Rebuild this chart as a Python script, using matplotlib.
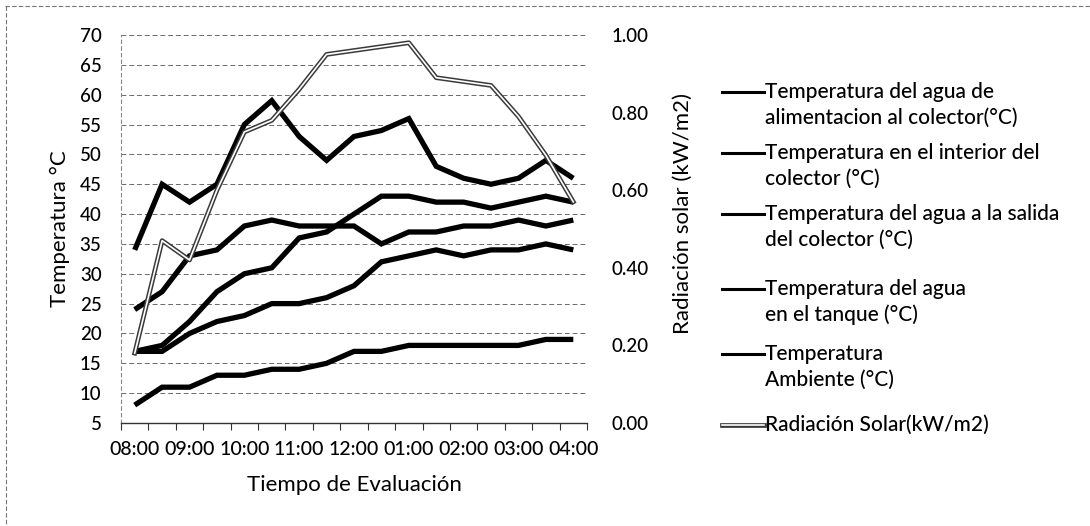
import matplotlib
matplotlib.use("Agg")
import matplotlib.pyplot as plt
from matplotlib.lines import Line2D
import matplotlib.patheffects as pe
from matplotlib.ticker import FixedLocator, FuncFormatter

plt.rcParams['font.family'] = ['Lato', 'DejaVu Sans']
plt.rcParams['font.weight'] = 'medium'

# Horas de medición (cada 30 minutos)
horas = ["08:00", "08:30", "09:00", "09:30", "10:00", "10:30", "11:00", "11:30",
         "12:00", "12:30", "01:00", "01:30", "02:00", "02:30", "03:00", "03:30", "04:00"]

t_alimentacion = [17, 17, 20, 22, 23, 25, 25, 26, 28, 32, 33, 34, 33, 34, 34, 35, 34]
t_interior = [34, 45, 42, 45, 55, 59, 53, 49, 53, 54, 56, 48, 46, 45, 46, 49, 46]
t_salida = [17, 18, 22, 27, 30, 31, 36, 37, 40, 43, 43, 42, 42, 41, 42, 43, 42]
t_tanque = [24, 27, 33, 34, 38, 39, 38, 38, 38, 35, 37, 37, 38, 38, 39, 38, 39]
t_ambiente = [8, 11, 11, 13, 13, 14, 14, 15, 17, 17, 18, 18, 18, 18, 18, 19, 19]
radiacion = [0.18, 0.47, 0.42, 0.60, 0.75, 0.78, 0.86, 0.95, 0.96, 0.97, 0.98,
             0.89, 0.88, 0.87, 0.79, 0.69, 0.57]

etiquetas = ["Temperatura del agua de\nalimentacion al colector(°C)",
             "Temperatura en el interior del\ncolector (°C)",
             "Temperatura del agua a la salida\ndel colector (°C)",
             "Temperatura del agua\nen el tanque (°C)",
             "Temperatura\nAmbiente (°C)",
             "Radiación Solar(kW/m2)"]

W, H = 1090, 526
fig = plt.figure(figsize=(W / 100, H / 100), dpi=100)
fig.patch.set_facecolor("white")

def fx(px):
    return px / W

def fy(py):
    return 1 - py / H

ax = fig.add_axes([fx(121), fy(423), fx(587) - fx(121), fy(35) - fy(423)])
x = list(range(len(horas)))

LW = 3.8
series = [t_alimentacion, t_interior, t_salida, t_tanque, t_ambiente]
for s in series:
    ax.plot(x, s, color="black", lw=LW, solid_joinstyle="miter", solid_capstyle="butt", zorder=3)

ax.set_xlim(-0.5, len(horas) - 0.5)
ax.set_ylim(5, 70)
ax.set_yticks(range(5, 71, 5))
ax.yaxis.grid(True, color="#6a6a6a", lw=0.7, linestyle=(0, (5, 3)))
ax.set_axisbelow(True)

ax.xaxis.set_major_locator(FixedLocator(x[::2]))
ax.set_xticklabels(horas[::2])
ax.xaxis.set_minor_locator(FixedLocator([i - 0.5 for i in range(len(horas) + 1)]))
ax.tick_params(axis="x", which="major", length=0, pad=13, labelsize=14)
ax.tick_params(axis="x", which="minor", length=5, width=0.8, color="#333", direction="out")
ax.tick_params(axis="y", length=0, pad=14, labelsize=13.5)

for side in ("top", "right"):
    ax.spines[side].set_visible(False)
ax.spines["left"].set_color("#888")
ax.spines["left"].set_linestyle((0, (3, 3)))
ax.spines["left"].set_linewidth(0.8)
ax.spines["bottom"].set_color("#333")
ax.spines["bottom"].set_linewidth(1.0)

ax.set_xlabel("Tiempo de Evaluación", fontsize=16, labelpad=12)
ax.set_ylabel("Temperatura °C", fontsize=16)
ax.yaxis.set_label_coords((60 - 121) / 466, 0.5)
ax.yaxis.label.set_va("center")

ax2 = ax.twinx()
ax2.set_ylim(0, 1.0)
ax2.set_yticks([0, 0.2, 0.4, 0.6, 0.8, 1.0])
ax2.yaxis.set_major_formatter(FuncFormatter(lambda v, p: f"{v:.2f}"))
ax2.tick_params(axis="y", length=0, pad=18, labelsize=13.5)
for side in ("top", "right", "left", "bottom"):
    ax2.spines[side].set_visible(False)
ax2.set_ylabel("Radiación solar (kW/m2)", fontsize=16)
ax2.yaxis.set_label_coords((683 - 121) / 466, 0.54)
ax2.yaxis.label.set_va("center")

rad_effects = [pe.Stroke(linewidth=3.4, foreground="#3a3a3a"), pe.Normal()]
ax2.plot(x, radiacion, color="white", lw=1.2, path_effects=rad_effects, zorder=4)

# Leyenda a la derecha del gráfico
filas = [92, 153, 214, 289, 354, 425]
for i, (texto, fila) in enumerate(zip(etiquetas, filas)):
    if i < 5:
        h = Line2D([fx(722), fx(764)], [fy(fila), fy(fila)], transform=fig.transFigure,
                   color="black", lw=2.2)
    else:
        h = Line2D([fx(722), fx(764)], [fy(fila), fy(fila)], transform=fig.transFigure,
                   color="white", lw=1.2, path_effects=rad_effects)
    fig.add_artist(h)
    for j, linea in enumerate(texto.split("\n")):
        fig.text(fx(765), fy(fila + j * 26), linea, fontsize=15, va="center", ha="left")

# Marco del área del gráfico
fig.add_artist(Line2D([fx(5), fx(1090)], [fy(6), fy(6)], transform=fig.transFigure,
                      color="#777", lw=0.8, linestyle=(0, (4, 2))))
fig.add_artist(Line2D([fx(6), fx(6)], [fy(6), fy(526)], transform=fig.transFigure,
                      color="#777", lw=0.8, linestyle=(0, (4, 2))))

fig.savefig("out.png", dpi=100, facecolor="white")
